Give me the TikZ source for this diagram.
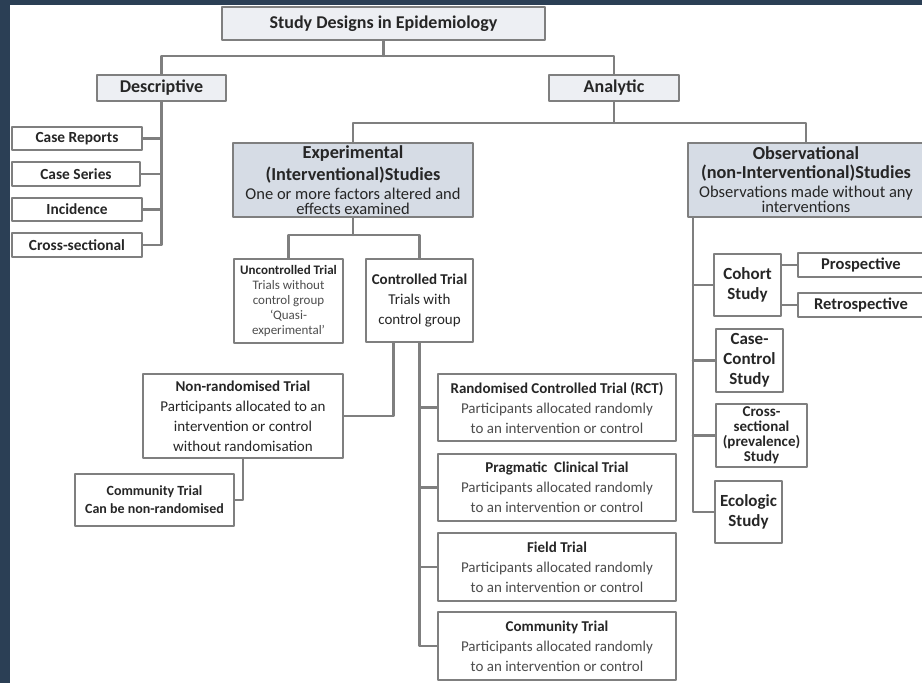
\documentclass[tikz,border=0pt]{standalone}
\usepackage{fontspec}
\setmainfont{Carlito}
\definecolor{navy}{HTML}{2B3F55}
\definecolor{edge}{HTML}{7F7F7F}
\definecolor{paleblue}{HTML}{EDEFF3}
\definecolor{greyblue}{HTML}{D6DCE5}
\definecolor{ink}{HTML}{262626}
\definecolor{soft}{HTML}{4D4D4D}
\newcommand{\ehead}[1]{{\bfseries\fontsize{18.3}{20}\selectfont #1}}
\newcommand{\lite}[1]{{\color{soft}#1}}
\tikzset{
  box/.style={draw=edge, line width=2.2pt, fill=white, align=center, inner sep=0pt, text=ink},
  head/.style={box, fill=paleblue, font=\bfseries\fontsize{18}{20}\selectfont},
  study/.style={box, fill=greyblue, font=\fontsize{16.5}{15}\selectfont},
  small/.style={box, font=\bfseries\fontsize{15.4}{18}\selectfont},
  trial/.style={box, font=\fontsize{15}{20}\selectfont},
  design/.style={box, font=\bfseries\fontsize{17}{20}\selectfont},
  link/.style={draw=edge, line width=2.2pt},
}
\begin{document}
\begin{tikzpicture}[x=1pt, y=-1pt, line join=round, line cap=round]
  \useasboundingbox (0,0) rectangle (922,683);
  \fill[navy] (0,0) rectangle (922,683);
  \fill[white] (10,5) rectangle (922,683);
  % top levels
  \path
  (383.5,23.5) node[head, minimum width=323pt, minimum height=33pt] (title) {Study Designs in Epidemiology}
  (161.5,88) node[head, minimum width=129pt, minimum height=26pt] (desc) {Descriptive}
  (614,88) node[head, minimum width=130pt, minimum height=26pt] (anal) {Analytic}
  (353,180) node[study, minimum width=240pt, minimum height=74pt] (exp)
    {\ehead{Experimental}\\[4pt]\ehead{(Interventional)Studies}\\[4pt]One or more factors altered and\\effects examined}
  (806,180) node[study, minimum width=236pt, minimum height=74pt] (obs)
    {\ehead{Observational}\\[4pt]\ehead{(non-Interventional)Studies}\\[4pt]Observations made without any\\interventions}
  ;
  % descriptive
  \path
  (77,138.5) node[small, minimum width=130pt, minimum height=23pt] (caserep) {Case Reports}
  (76,174) node[small, minimum width=128pt, minimum height=24pt] (caseser) {Case Series}
  (77,209.5) node[small, minimum width=130pt, minimum height=23pt] (incid) {Incidence}
  (77,245) node[small, minimum width=130pt, minimum height=24pt] (cross) {Cross-sectional}
  ;
  % experimental
  \path
  (288.5,301) node[box, font=\fontsize{13}{15}\selectfont, minimum width=109pt, minimum height=84pt] (unctrl)
    {\textbf{Uncontrolled Trial}\\\lite{Trials without}\\\lite{control group}\\\lite{`Quasi-}\\\lite{experimental'}}
  (419.5,300.5) node[trial, minimum width=107pt, minimum height=83pt] (ctrl)
    {\textbf{Controlled Trial}\\Trials with\\control group}
  (243,416) node[trial, minimum width=200pt, minimum height=84pt] (nonrand)
    {\textbf{Non-randomised Trial}\\Participants allocated to an\\intervention or control\\without randomisation}
  (154.5,500) node[box, font=\bfseries\fontsize{14}{18}\selectfont, minimum width=159pt, minimum height=52pt] (commleft)
    {Community Trial\\Can be non-randomised}
  (557,407.5) node[trial, minimum width=238pt, minimum height=67pt] (rct)
    {\textbf{Randomised Controlled Trial (RCT)}\\\lite{Participants allocated randomly}\\\lite{to an intervention or control}}
  (557,487.5) node[trial, minimum width=238pt, minimum height=67pt] (prag)
    {\textbf{Pragmatic\ \ Clinical Trial}\\\lite{Participants allocated randomly}\\\lite{to an intervention or control}}
  (557,567) node[trial, minimum width=238pt, minimum height=68pt] (field)
    {\textbf{Field Trial}\\\lite{Participants allocated randomly}\\\lite{to an intervention or control}}
  (557,646) node[trial, minimum width=238pt, minimum height=68pt] (commright)
    {\textbf{Community Trial}\\\lite{Participants allocated randomly}\\\lite{to an intervention or control}}
  ;
  % observational
  \path
  (747.5,285) node[design, minimum width=67pt, minimum height=62pt] (cohort) {Cohort\\Study}
  (861,265) node[box, font=\bfseries\fontsize{16.5}{18}\selectfont, minimum width=126pt, minimum height=24pt] (prosp) {Prospective}
  (861,305) node[box, font=\bfseries\fontsize{16.5}{18}\selectfont, minimum width=126pt, minimum height=24pt] (retro) {Retrospective}
  (749.5,360.5) node[design, minimum width=67pt, minimum height=63pt] (casectl) {Case-\\Control\\Study}
  (761.5,435.5) node[box, font=\bfseries\fontsize{15}{15}\selectfont, minimum width=91pt, minimum height=63pt] (crosssec)
    {Cross-\\sectional\\(prevalence)\\Study}
  (748.5,512) node[design, minimum width=67pt, minimum height=62pt] (ecol) {Ecologic\\Study}
  ;
  % connectors
  \coordinate (tbus) at (0,56);
  \coordinate (abus) at (0,123);
  \coordinate (ebus) at (0,235);
  \draw[link] (title.south) -- (title.south |- tbus);
  \draw[link] (desc.north) -- (desc.north |- tbus) -- (anal.north |- tbus) -- (anal.north);
  \draw[link] (anal.south) -- (anal.south |- abus);
  \draw[link] (exp.north) -- (exp.north |- abus) -- (obs.north |- abus) -- (obs.north);
  \draw[link] (desc.south) -- (desc.south |- cross.east) -- (cross.east);
  \foreach \nd in {caserep, caseser, incid}
    \draw[link] (\nd.east) -- (\nd.east -| desc.south);
  \draw[link] (exp.south) -- (exp.south |- ebus);
  \draw[link] (unctrl.north) -- (unctrl.north |- ebus) -- (ctrl.north |- ebus) -- (ctrl.north);
  \draw[link] ([xshift=-26pt]ctrl.south) |- (nonrand.east);
  \draw[link] (nonrand.south) |- (commleft.east);
  \draw[link] (ctrl.south) |- (commright.west);
  \foreach \nd in {rct, prag, field}
    \draw[link] (\nd.west) -- (\nd.west -| ctrl.south);
  \coordinate (ov) at ([xshift=6pt]obs.south west);
  \draw[link] (ov) |- (ecol.west);
  \foreach \nd in {cohort, casectl, crosssec}
    \draw[link] (\nd.west) -- (\nd.west -| ov);
  \draw[link] (prosp.west) -- (prosp.west -| cohort.east);
  \draw[link] (retro.west) -- (retro.west -| cohort.east);
\end{tikzpicture}
\end{document}
